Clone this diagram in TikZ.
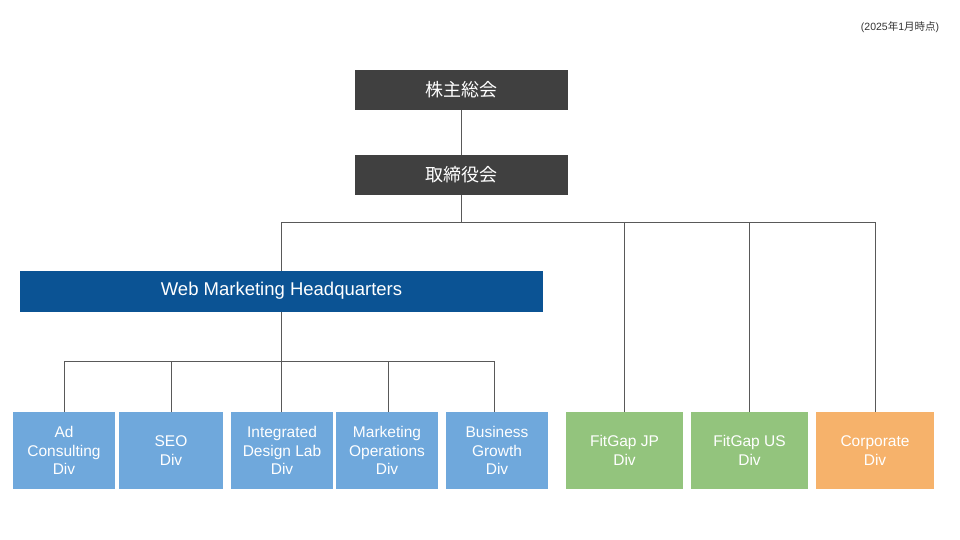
\documentclass[tikz,border=0pt]{standalone}
\usepackage{fontspec}
\setmainfont{Liberation Sans}
\newfontfamily\jpfont{Noto Sans CJK JP}
\definecolor{darkbox}{HTML}{404040}
\definecolor{hqblue}{HTML}{0B5394}
\definecolor{divblue}{HTML}{6FA8DC}
\definecolor{divgreen}{HTML}{93C47D}
\definecolor{divorange}{HTML}{F6B26B}
\definecolor{linegray}{HTML}{595959}
\tikzset{
  box/.style={inner sep=0pt, outer sep=0pt, text=white, align=center},
  topbox/.style={box, fill=darkbox, minimum width=213pt, minimum height=40pt, font=\jpfont\fontsize{18}{20}\selectfont},
  hqbox/.style={box, fill=hqblue, minimum width=523pt, minimum height=41pt, font=\fontsize{18.5}{20}\selectfont},
  divbox/.style={box, minimum height=77pt, font=\fontsize{15.5}{18.5}\selectfont},
  conn/.style={draw=linegray, line width=0.9pt}
}
\begin{document}
\begin{tikzpicture}[x=1pt,y=-1pt]
\useasboundingbox (0,0) rectangle (960,540);
\node[font=\fontsize{10.5}{12}\selectfont, text=black!80, inner sep=0pt] (note) at (900,27) {(2025{\jpfont 年}1{\jpfont 月時点})};
\node[topbox] (gm) at (461.5,90) {株主総会};
\node[topbox] (board) at (461.5,175) {取締役会};
\node[hqbox] (hq) at (281.5,291) {Web Marketing Headquarters};
\node[divbox, fill=divblue, minimum width=102pt] (ad) at (64,450.5) {Ad\\Consulting\\Div};
\node[divbox, fill=divblue, minimum width=104pt] (seo) at (171,450.5) {SEO\\Div};
\node[divbox, fill=divblue, minimum width=102pt] (idl) at (282,450.5) {Integrated\\Design Lab\\Div};
\node[divbox, fill=divblue, minimum width=102pt] (mo) at (387,450.5) {Marketing\\Operations\\Div};
\node[divbox, fill=divblue, minimum width=102pt] (bg) at (497,450.5) {Business\\Growth\\Div};
\node[divbox, fill=divgreen, minimum width=117pt] (fjp) at (624.5,450.5) {FitGap JP\\Div};
\node[divbox, fill=divgreen, minimum width=117pt] (fus) at (749.5,450.5) {FitGap US\\Div};
\node[divbox, fill=divorange, minimum width=118pt] (corp) at (875,450.5) {Corporate\\Div};
\coordinate (j1) at (461.5,222);
\coordinate (j2) at (281.5,361);
\draw[conn] (gm.south) -- (board.north);
\draw[conn] (board.south) -- (j1);
\draw[conn] (hq.north) -- (hq.north |- j1) -- (corp.north |- j1) -- (corp.north);
\draw[conn] (fjp.north) -- (fjp.north |- j1);
\draw[conn] (fus.north) -- (fus.north |- j1);
\draw[conn] (hq.south) -- (j2);
\draw[conn] (ad.north) -- (ad.north |- j2) -| ([xshift=-3pt]bg.north);
\draw[conn] (seo.north) -- (seo.north |- j2);
\draw[conn] ([xshift=-1pt]idl.north) -- ([xshift=-1pt]idl.north |- j2);
\draw[conn] ([xshift=1pt]mo.north) -- ([xshift=1pt]mo.north |- j2);
\end{tikzpicture}
\end{document}
